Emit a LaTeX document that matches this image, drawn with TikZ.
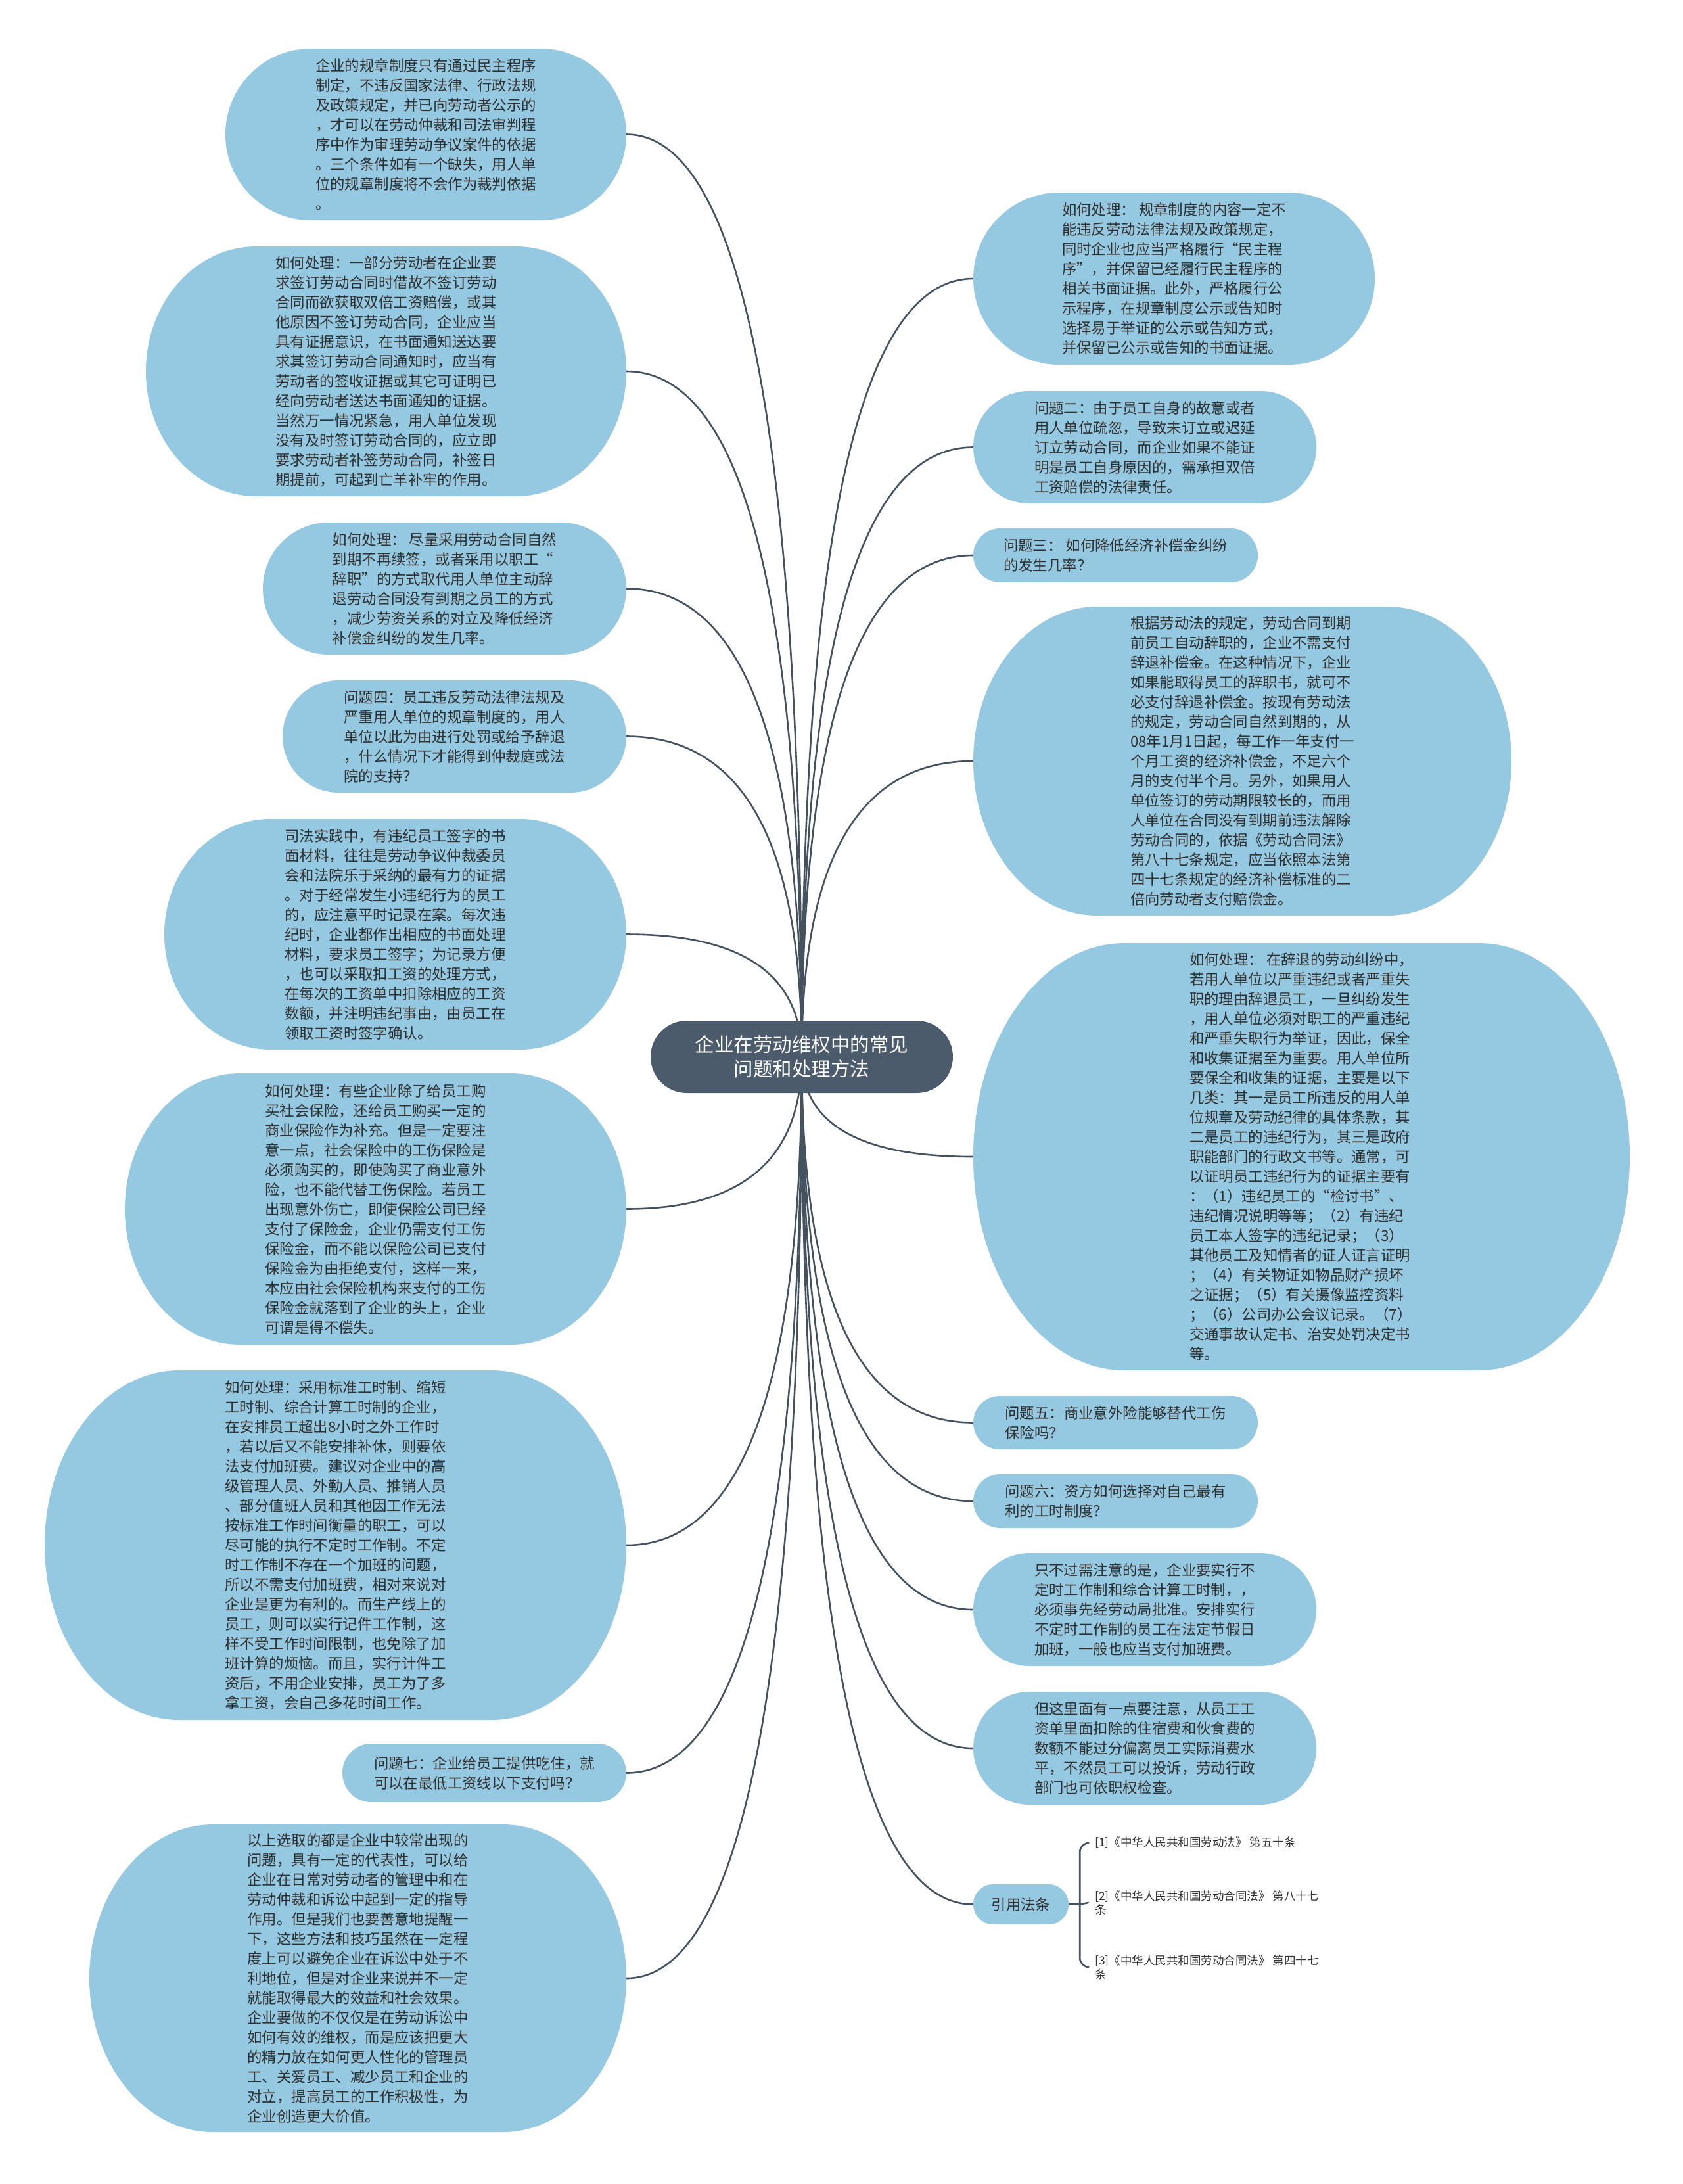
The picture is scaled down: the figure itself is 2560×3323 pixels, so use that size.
\documentclass[tikz,border=0pt]{standalone}
\usepackage{fontspec}
\newfontfamily\cjk{Noto Sans CJK SC}
\usetikzlibrary{calc}
\pgfdeclarelayer{bg}
\pgfdeclarelayer{conns}
\pgfsetlayers{bg,conns,main}
\definecolor{bubblue}{HTML}{95C9E1}
\definecolor{hubgray}{HTML}{4B5B6B}
\definecolor{linecol}{HTML}{44525F}
\definecolor{txtcol}{HTML}{303030}
\tikzset{
  bubfill/.style={fill=bubblue},
  hubfill/.style={fill=hubgray},
  btext/.style={font=\cjk\fontsize{22.4}{30}\selectfont, text=txtcol, align=left, inner sep=0pt},
  htext/.style={font=\cjk\fontsize{29.5}{37}\selectfont, text=white, align=center, inner sep=0pt},
  ctext/.style={font=\cjk\fontsize{17.5}{21}\selectfont, text=txtcol, align=left, inner xsep=10pt, inner ysep=2pt, anchor=west},
  conn/.style={draw=linecol, line width=2.6pt, line cap=round},
}
% pill with elliptical ends: style, x, y, w, h, rx
\newcommand\bubshape[6]{\fill[#1] (#2-#4/2+#6, -#3+#5/2) -- (#2+#4/2-#6, -#3+#5/2)
  arc[start angle=90, end angle=-90, x radius=#6, y radius=#5/2]
  -- (#2-#4/2+#6, -#3-#5/2)
  arc[start angle=270, end angle=90, x radius=#6, y radius=#5/2] -- cycle;}
% name, x, y, w, h, rx, text
\newcommand\mmnode[7]{\bubshape{bubfill}{#2}{#3}{#4}{#5}{#6}
  \node[btext, minimum width=#4, minimum height=#5] (#1) at (#2,-#3) {#7};}
% from, to, anchor
\newcommand\mmlink[3]{\draw[conn] (#1.center) .. controls ($(#1.center)!0.667!(#1.center |- #2.#3)$) and ($(#2.#3)!0.667!(#1.center |- #2.#3)$) .. (#2.#3);}

\begin{document}
\begin{tikzpicture}[x=1pt,y=1pt]
\begin{pgfonlayer}{bg}
\fill[white] (0,0) rectangle (2560,-3323);
\end{pgfonlayer}
\useasboundingbox (0,0) rectangle (2560,-3323);

% hub
\bubshape{hubfill}{1220}{1608}{460}{110}{55}
\node[htext, minimum width=460, minimum height=110] (hub) at (1220,-1608) {企业在劳动维权中的常见\\问题和处理方法};

% left side
\mmnode{L1}{648}{204.5}{610}{261}{130}{企业的规章制度只有通过民主程序\\制定，不违反国家法律、行政法规\\及政策规定，并已向劳动者公示的\\，才可以在劳动仲裁和司法审判程\\序中作为审理劳动争议案件的依据\\。三个条件如有一个缺失，用人单\\位的规章制度将不会作为裁判依据\\。}
\mmnode{L2}{587.5}{565}{731}{380}{168}{如何处理：一部分劳动者在企业要\\求签订劳动合同时借故不签订劳动\\合同而欲获取双倍工资赔偿，或其\\他原因不签订劳动合同，企业应当\\具有证据意识，在书面通知送达要\\求其签订劳动合同通知时，应当有\\劳动者的签收证据或其它可证明已\\经向劳动者送达书面通知的证据。\\当然万一情况紧急，用人单位发现\\没有及时签订劳动合同的，应立即\\要求劳动者补签劳动合同，补签日\\期提前，可起到亡羊补牢的作用。}
\mmnode{L3}{676.5}{895.5}{553}{201}{100}{如何处理： 尽量采用劳动合同自然\\到期不再续签，或者采用以职工“\\辞职”的方式取代用人单位主动辞\\退劳动合同没有到期之员工的方式\\，减少劳资关系的对立及降低经济\\补偿金纠纷的发生几率。}
\mmnode{L4}{691.5}{1120.5}{523}{171}{85}{问题四：员工违反劳动法律法规及\\严重用人单位的规章制度的，用人\\单位以此为由进行处罚或给予辞退\\，什么情况下才能得到仲裁庭或法\\院的支持？}
\mmnode{L5}{601.5}{1421.5}{703}{351}{162}{司法实践中，有违纪员工签字的书\\面材料，往往是劳动争议仲裁委员\\会和法院乐于采纳的最有力的证据\\。对于经常发生小违纪行为的员工\\的，应注意平时记录在案。每次违\\纪时，企业都作出相应的书面处理\\材料，要求员工签字；为记录方便\\，也可以采取扣工资的处理方式，\\在每次的工资单中扣除相应的工资\\数额，并注明违纪事由，由员工在\\领取工资时签字确认。}
\mmnode{L6}{571.5}{1839.5}{763}{413}{176}{如何处理：有些企业除了给员工购\\买社会保险，还给员工购买一定的\\商业保险作为补充。但是一定要注\\意一点，社会保险中的工伤保险是\\必须购买的，即使购买了商业意外\\险，也不能代替工伤保险。若员工\\出现意外伤亡，即使保险公司已经\\支付了保险金，企业仍需支付工伤\\保险金，而不能以保险公司已支付\\保险金为由拒绝支付，这样一来，\\本应由社会保险机构来支付的工伤\\保险金就落到了企业的头上，企业\\可谓是得不偿失。}
\mmnode{L7}{510.5}{2351}{885}{532}{205}{如何处理：采用标准工时制、缩短\\工时制、综合计算工时制的企业，\\在安排员工超出8小时之外工作时\\，若以后又不能安排补休，则要依\\法支付加班费。建议对企业中的高\\级管理人员、外勤人员、推销人员\\、部分值班人员和其他因工作无法\\按标准工作时间衡量的职工，可以\\尽可能的执行不定时工作制。不定\\时工作制不存在一个加班的问题，\\所以不需支付加班费，相对来说对\\企业是更为有利的。而生产线上的\\员工，则可以实行记件工作制，这\\样不受工作时间限制，也免除了加\\班计算的烦恼。而且，实行计件工\\资后，不用企业安排，员工为了多\\拿工资，会自己多花时间工作。}
\mmnode{L8}{737}{2697.5}{432}{89}{44}{问题七：企业给员工提供吃住，就\\可以在最低工资线以下支付吗？}
\mmnode{L9}{544.5}{3010}{817}{468}{188}{以上选取的都是企业中较常出现的\\问题，具有一定的代表性，可以给\\企业在日常对劳动者的管理中和在\\劳动仲裁和诉讼中起到一定的指导\\作用。但是我们也要善意地提醒一\\下，这些方法和技巧虽然在一定程\\度上可以避免企业在诉讼中处于不\\利地位，但是对企业来说并不一定\\就能取得最大的效益和社会效果。\\企业要做的不仅仅是在劳动诉讼中\\如何有效的维权，而是应该把更大\\的精力放在如何更人性化的管理员\\工、关爱员工、减少员工和企业的\\对立，提高员工的工作积极性，为\\企业创造更大价值。}

% right side
\mmnode{R1}{1786.5}{424}{611}{262}{131}{如何处理： 规章制度的内容一定不\\能违反劳动法律法规及政策规定，\\同时企业也应当严格履行“民主程\\序”，并保留已经履行民主程序的\\相关书面证据。此外，严格履行公\\示程序，在规章制度公示或告知时\\选择易于举证的公示或告知方式，\\并保留已公示或告知的书面证据。}
\mmnode{R2}{1742}{680.5}{522}{171}{85}{问题二：由于员工自身的故意或者\\用人单位疏忽，导致未订立或迟延\\订立劳动合同，而企业如果不能证\\明是员工自身原因的，需承担双倍\\工资赔偿的法律责任。}
\mmnode{R3}{1697.5}{845}{433}{82}{41}{问题三： 如何降低经济补偿金纠纷\\的发生几率？}
\mmnode{R4}{1890.5}{1158}{819}{470}{189}{根据劳动法的规定，劳动合同到期\\前员工自动辞职的，企业不需支付\\辞退补偿金。在这种情况下，企业\\如果能取得员工的辞职书，就可不\\必支付辞退补偿金。按现有劳动法\\的规定，劳动合同自然到期的，从\\08年1月1日起，每工作一年支付一\\个月工资的经济补偿金，不足六个\\月的支付半个月。另外，如果用人\\单位签订的劳动期限较长的，而用\\人单位在合同没有到期前违法解除\\劳动合同的，依据《劳动合同法》\\第八十七条规定，应当依照本法第\\四十七条规定的经济补偿标准的二\\倍向劳动者支付赔偿金。}
\mmnode{R5}{1980.5}{1760}{999}{650}{230}{如何处理： 在辞退的劳动纠纷中，\\若用人单位以严重违纪或者严重失\\职的理由辞退员工，一旦纠纷发生\\，用人单位必须对职工的严重违纪\\和严重失职行为举证，因此，保全\\和收集证据至为重要。用人单位所\\要保全和收集的证据，主要是以下\\几类：其一是员工所违反的用人单\\位规章及劳动纪律的具体条款，其\\二是员工的违纪行为，其三是政府\\职能部门的行政文书等。通常，可\\以证明员工违纪行为的证据主要有\\：（1）违纪员工的“检讨书”、\\违纪情况说明等等；（2）有违纪\\员工本人签字的违纪记录；（3）\\其他员工及知情者的证人证言证明\\；（4）有关物证如物品财产损坏\\之证据；（5）有关摄像监控资料\\；（6）公司办公会议记录。（7）\\交通事故认定书、治安处罚决定书\\等。}
\mmnode{R6}{1697.5}{2164.5}{433}{81}{40}{问题五：商业意外险能够替代工伤\\保险吗？}
\mmnode{R7}{1697.5}{2284}{433}{82}{41}{问题六：资方如何选择对自己最有\\利的工时制度？}
\mmnode{R8}{1742}{2449}{522}{172}{86}{只不过需注意的是，企业要实行不\\定时工作制和综合计算工时制，，\\必须事先经劳动局批准。安排实行\\不定时工作制的员工在法定节假日\\加班，一般也应当支付加班费。}
\mmnode{R9}{1742}{2660}{522}{172}{86}{但这里面有一点要注意，从员工工\\资单里面扣除的住宿费和伙食费的\\数额不能过分偏离员工实际消费水\\平，不然员工可以投诉，劳动行政\\部门也可依职权检查。}
\mmnode{R10}{1553.5}{2897.5}{145}{61}{30}{引用法条}

% citations
\node[ctext] (cite1) at (1656,-2804) {[1]《中华人民共和国劳动法》 第五十条};
\node[ctext] (cite2) at (1656,-2895) {[2]《中华人民共和国劳动合同法》 第八十七\\条};
\node[ctext] (cite3) at (1656,-2993) {[3]《中华人民共和国劳动合同法》 第四十七\\条};
\coordinate (br) at ($(R10.east)+(17,0)$);

\begin{pgfonlayer}{conns}
\mmlink{hub}{L1}{east}
\mmlink{hub}{L2}{east}
\mmlink{hub}{L3}{east}
\mmlink{hub}{L4}{east}
\mmlink{hub}{L5}{east}
\mmlink{hub}{L6}{east}
\mmlink{hub}{L7}{east}
\mmlink{hub}{L8}{east}
\mmlink{hub}{L9}{east}
\mmlink{hub}{R1}{west}
\mmlink{hub}{R2}{west}
\mmlink{hub}{R3}{west}
\mmlink{hub}{R4}{west}
\mmlink{hub}{R5}{west}
\mmlink{hub}{R6}{west}
\mmlink{hub}{R7}{west}
\mmlink{hub}{R8}{west}
\mmlink{hub}{R9}{west}
\mmlink{hub}{R10}{west}
\draw[conn] (R10.east) -- (br) -- (cite2.west);
\draw[conn, rounded corners=14pt] (br) |- (cite1.west);
\draw[conn, rounded corners=14pt] (br) |- (cite3.west);
\end{pgfonlayer}
\end{tikzpicture}
\end{document}
